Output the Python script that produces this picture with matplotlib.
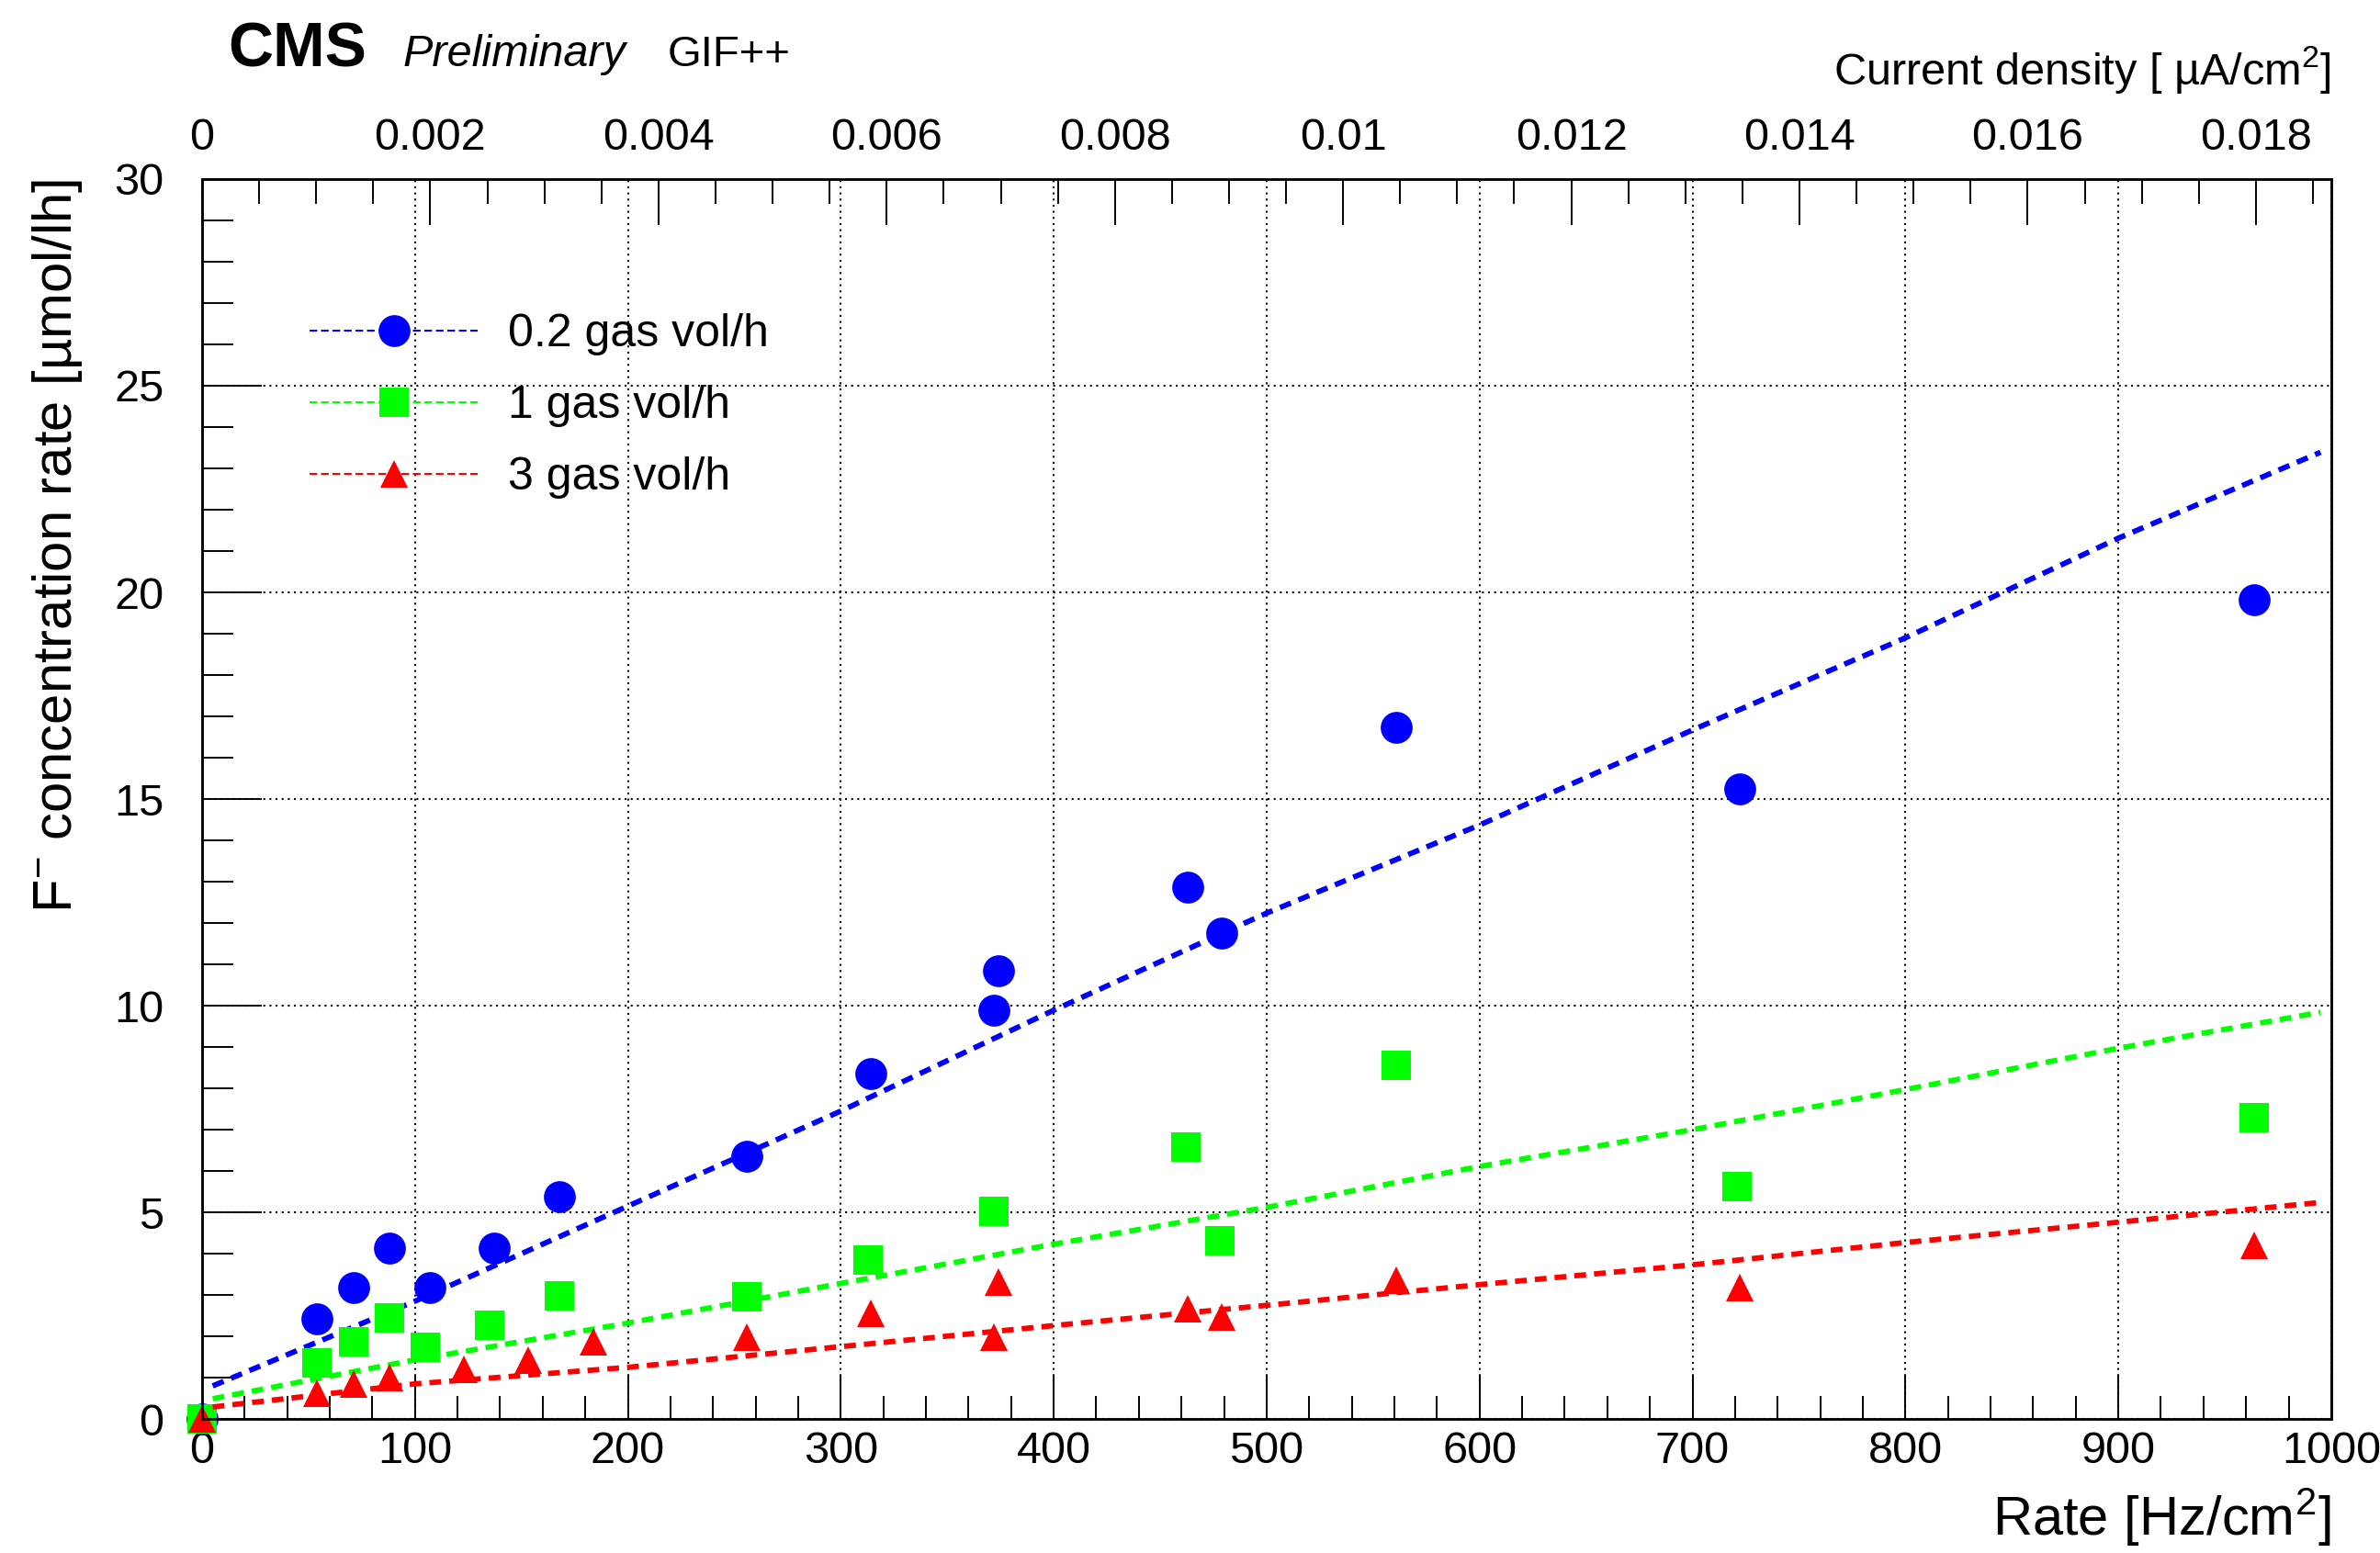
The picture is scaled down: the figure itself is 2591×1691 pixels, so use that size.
import matplotlib
matplotlib.use('Agg')
import matplotlib.pyplot as plt
from matplotlib.lines import Line2D
from matplotlib.ticker import MultipleLocator, FuncFormatter

# ------------------------------------------------------------
# Data
# ------------------------------------------------------------
rate_02 = [0, 54, 71, 88, 107, 137, 168, 256, 314, 372, 374, 463, 479, 561, 722, 964]
conc_02 = [0, 2.43, 3.18, 4.14, 3.18, 4.14, 5.37, 6.36, 8.35, 9.89, 10.85, 12.86, 11.75,
           16.73, 15.25, 19.83]

rate_1 = [0, 54, 71, 88, 105, 135, 168, 256, 313, 372, 462, 478, 561, 721, 964]
conc_1 = [0, 1.36, 1.86, 2.45, 1.74, 2.26, 2.98, 2.96, 3.85, 5.03, 6.58, 4.32, 8.55, 5.63, 7.30]

rate_3 = [0, 54, 71, 88, 123, 153, 184, 256, 314, 372, 374, 463, 479, 561, 722, 964]
conc_3 = [0, 0.63, 0.84, 1.0, 1.2, 1.43, 1.86, 1.98, 2.56, 1.99, 3.32, 2.66, 2.47, 3.36, 3.19, 4.2]

# fitted lines
fit_rate = [5, 100, 200, 300, 400, 500, 600, 700, 800, 900, 995]
fit_02 = [0.8, 2.85, 5.15, 7.45, 9.89, 12.24, 14.37, 16.67, 18.9, 21.31, 23.39]
fit_1 = [0.49, 1.43, 2.32, 3.28, 4.23, 5.12, 6.11, 7.0, 7.97, 8.97, 9.84]
fit_3 = [0.29, 0.85, 1.25, 1.75, 2.26, 2.75, 3.25, 3.73, 4.27, 4.76, 5.24]

labels = ['0.2 gas vol/h', '1 gas vol/h', '3 gas vol/h']
colors = ['#0000ff', '#00ff00', '#ff0000']
markers = ['o', 's', '^']
msizes = [25, 23, 22]

cd_max = 0.01866   # current density at Rate = 1000 Hz/cm2

# ------------------------------------------------------------
# Style
# ------------------------------------------------------------
plt.rcParams.update({
    'font.family': ['Liberation Sans', 'DejaVu Sans'],
    'mathtext.fontset': 'custom',
    'mathtext.rm': 'Liberation Sans',
    'mathtext.it': 'Liberation Sans:italic',
    'axes.linewidth': 1.8,
})

fig = plt.figure(figsize=(25.91, 16.91), dpi=100)
ax = fig.add_axes([0.0849, 0.0863, 0.8946, 0.7984])

series = [(rate_02, conc_02, fit_02), (rate_1, conc_1, fit_1), (rate_3, conc_3, fit_3)]
z = 3
for (xs, ys, fy), c, m, ms in zip(series, colors, markers, msizes):
    ax.plot(xs, ys, linestyle='none', marker=m, markersize=ms, color=c,
            markeredgewidth=0, zorder=z, clip_on=False)
    ax.plot(fit_rate, fy, color=c, linewidth=4.2, dashes=(2.2, 1.5),
            dash_capstyle='butt', zorder=z + 1)
    z += 2

ax.set_xlim(0, 1000)
ax.set_ylim(0, 30)
ax.xaxis.set_major_locator(MultipleLocator(100))
ax.xaxis.set_minor_locator(MultipleLocator(20))
ax.yaxis.set_major_locator(MultipleLocator(5))
ax.yaxis.set_minor_locator(MultipleLocator(1))

ax.tick_params(axis='x', which='major', direction='in', length=34.5, width=1.4,
               labelsize=35, pad=9, top=False)
ax.tick_params(axis='x', which='minor', direction='in', length=18, width=1.4, top=False)
ax.tick_params(axis='y', which='major', direction='in', length=47, width=1.4,
               labelsize=35, pad=30, right=False)
ax.tick_params(axis='y', which='minor', direction='in', length=24.5, width=1.4, right=False)

ax.grid(True, which='major', color='black', linestyle=(0, (1, 2.2)), linewidth=1.5)

ax.set_xlabel('Rate [Hz/cm$^2$]', fontsize=43, loc='right')
ax.xaxis.label.set_va('baseline')
ax.xaxis.set_label_coords(1.0, -0.0941)

ax.set_ylabel('F$^{-}$ concentration rate [µmol/lh]', fontsize=43, loc='top')
ax.yaxis.label.set(rotation_mode='anchor', va='baseline', ha='right')
ax.yaxis.set_label_coords(-0.0613, 1.0)

# top axis: current density
ax2 = ax.twiny()
ax2.set_xlim(0, cd_max)
ax2.xaxis.set_major_locator(MultipleLocator(0.002))
ax2.xaxis.set_minor_locator(MultipleLocator(0.0005))
ax2.xaxis.set_major_formatter(FuncFormatter(lambda v, p: f'{v:g}'))
ax2.tick_params(axis='x', which='major', direction='in', length=36, width=1.4,
                labelsize=35, pad=16, bottom=False)
ax2.tick_params(axis='x', which='minor', direction='in', length=19.5, width=1.4, bottom=False)
ax2.set_xlabel('Current density [ µA/cm$^2$]', fontsize=35, loc='right')
ax2.xaxis.label.set_va('baseline')
ax2.xaxis.set_label_coords(1.0, 1.0763)

# legend
handles = [Line2D([], [], color=c, linewidth=1.5, dashes=(4, 2), marker=m,
                  markersize=ms, markeredgewidth=0)
           for c, m, ms in zip(colors, markers, msizes)]
ax.legend(handles, labels, loc='upper left', bbox_to_anchor=(0.0505, 0.8916),
          frameon=False, fontsize=36, handlelength=3.66, handletextpad=0.66,
          labelspacing=0.64, borderpad=0, borderaxespad=0)

# header
fig.text(248 / 2591, 0.9574, 'CMS', fontsize=49, fontweight='bold', va='baseline')
fig.text(438 / 2591, 0.9574, 'Preliminary', fontsize=35, fontstyle='italic', va='baseline')
fig.text(727 / 2591, 0.9574, 'GIF++', fontsize=34, va='baseline')

fig.savefig('out.png', dpi=100, facecolor='white')
